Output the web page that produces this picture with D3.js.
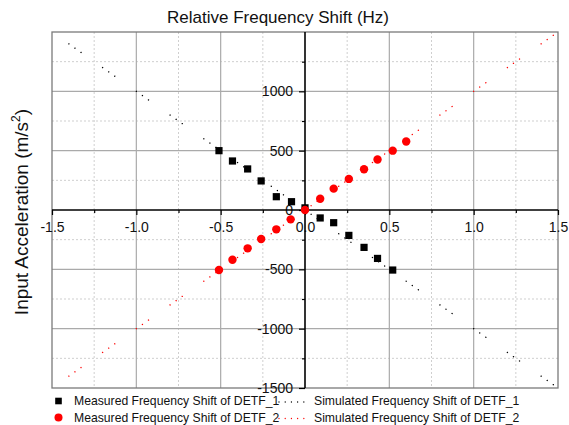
<!DOCTYPE html>
<html>
<head>
<meta charset="utf-8">
<script src="https://cdn.jsdelivr.net/npm/d3@7/dist/d3.min.js"></script>
<style>
  body { margin: 0; background: #fff; }
  svg { display: block; font-family: "Liberation Sans", Arial, sans-serif; }
</style>
</head>
<body>
<svg id="chart" width="569" height="425"></svg>
<script>
// ---- data ----
const measX1 = [-0.51, -0.43, -0.34, -0.26, -0.17, -0.08, 0.0, 0.09, 0.17, 0.26, 0.35, 0.43, 0.52];
const measY1 = [500, 413, 346, 245, 112, 70, 18, -67, -107, -214, -315, -408, -506];
const measX2 = [-0.51, -0.43, -0.34, -0.26, -0.17, -0.085, 0.0, 0.09, 0.17, 0.26, 0.35, 0.43, 0.52, 0.6];
const measY2 = [-506, -419, -323, -245, -163, -79, 0, 95, 180, 262, 343, 425, 500, 577];
const simX  = [-1.4, -1.2, -1.0, -0.8, -0.6, -0.4, -0.2, 0.0, 0.2, 0.4, 0.6, 0.8, 1.0, 1.2, 1.4, 1.5];
const simY1 = [1400, 1200, 1000, 800, 600, 400, 200, 0, -200, -400, -600, -800, -1000, -1200, -1400, -1500];
const simY2 = [-1400, -1200, -1000, -800, -600, -400, -200, 0, 200, 400, 600, 800, 1000, 1200, 1400, 1500];
const xMajor = [-1.5, -1.0, -0.5, 0.0, 0.5, 1.0, 1.5];
const xMinor = [-1.25, -0.75, -0.25, 0.25, 0.75, 1.25];
const yMajor = [-1500, -1000, -500, 0, 500, 1000];
const yMinor = [-1250, -750, -250, 250, 750, 1250];
const xGridMajor = [-1.0, -0.5, 0.5, 1.0];
const yGridMajor = [-1000, -500, 500, 1000];
const titleText = "Relative Frequency Shift (Hz)";
const legendLabels = ["Measured Frequency Shift of DETF_1", "Simulated Frequency Shift of DETF_1",
                      "Measured Frequency Shift of DETF_2", "Simulated Frequency Shift of DETF_2"];

// ---- layout ----
const svg = d3.select("#chart");
const L = 52, R = 558, T = 32, B = 388;
const x = d3.scaleLinear().domain([-1.5, 1.5]).range([L, R]);
const y = d3.scaleLinear().domain([-1500, 1500]).range([B, T]);
const red = "#ff0000";
const hy = f => (d => f(d).replace("\u2212", "-"));

// grid
const g = svg.append("g");
g.selectAll(".vmin").data(xMinor).join("line")
  .attr("x1", d => x(d)).attr("x2", d => x(d)).attr("y1", T).attr("y2", B)
  .attr("stroke", "#cfcfcf").attr("stroke-width", 1).attr("stroke-dasharray", "2,2");
g.selectAll(".hmin").data(yMinor).join("line")
  .attr("y1", d => y(d)).attr("y2", d => y(d)).attr("x1", L).attr("x2", R)
  .attr("stroke", "#cfcfcf").attr("stroke-width", 1).attr("stroke-dasharray", "2,2");
g.selectAll(".vmaj").data(xGridMajor).join("line")
  .attr("x1", d => x(d)).attr("x2", d => x(d)).attr("y1", T).attr("y2", B)
  .attr("stroke", "#aaaaaa").attr("stroke-width", 1.2);
g.selectAll(".hmaj").data(yGridMajor).join("line")
  .attr("y1", d => y(d)).attr("y2", d => y(d)).attr("x1", L).attr("x2", R)
  .attr("stroke", "#aaaaaa").attr("stroke-width", 1.2);

// frame
svg.append("rect").attr("x", L).attr("y", T).attr("width", R - L).attr("height", B - T)
  .attr("fill", "none").attr("stroke", "#7a7a7a").attr("stroke-width", 1.3);

// simulated dotted lines
function simLine(ys, color) {
  const pts = simX.map((d, i) => [x(d), y(ys[i])]);
  const seg = Math.hypot(pts[1][0] - pts[0][0], pts[1][1] - pts[0][1]);
  const d = seg * 0.18;
  svg.append("path")
    .attr("d", d3.line()(pts))
    .attr("fill", "none").attr("stroke", color).attr("stroke-width", 1.4)
    .attr("stroke-linecap", "round")
    .attr("stroke-dasharray", [0.01, d, 0.01, d, 0.01, seg - 2 * d - 0.03].join(","));
}
simLine(simY1, "#000");
simLine(simY2, red);

// axes
const xAxis = svg.append("g").attr("transform", `translate(0,${y(0)})`)
  .call(d3.axisBottom(x).tickValues(xMajor).tickSize(5).tickPadding(7).tickFormat(hy(d3.format(".1f"))));
xAxis.select(".domain").remove();
const xAxisMin = svg.append("g").attr("transform", `translate(0,${y(0)})`)
  .call(d3.axisBottom(x).tickValues(xMinor).tickSize(3).tickFormat(""));
xAxisMin.select(".domain").remove();
const yAxis = svg.append("g").attr("transform", `translate(${x(0)},0)`)
  .call(d3.axisLeft(y).tickValues(yMajor).tickSize(6).tickPadding(6).tickFormat(hy(d3.format("d"))));
yAxis.select(".domain").remove();
const yAxisMin = svg.append("g").attr("transform", `translate(${x(0)},0)`)
  .call(d3.axisLeft(y).tickValues(yMinor).tickSize(3).tickFormat(""));
yAxisMin.select(".domain").remove();
svg.selectAll(".tick text").attr("font-size", 14).attr("fill", "#111")
  .attr("font-family", "'Liberation Sans', Arial, sans-serif");
svg.selectAll(".tick line").attr("stroke", "#000").attr("stroke-width", 1.2);

svg.append("line").attr("x1", L).attr("x2", R).attr("y1", y(0)).attr("y2", y(0))
  .attr("stroke", "#000").attr("stroke-width", 1.6);
svg.append("line").attr("x1", x(0)).attr("x2", x(0)).attr("y1", T).attr("y2", B)
  .attr("stroke", "#000").attr("stroke-width", 1.6);

// measured markers
const sq = 7.2;
svg.append("g").selectAll("rect").data(measX1).join("rect")
  .attr("x", (d) => x(d) - sq / 2).attr("y", (d, i) => y(measY1[i]) - sq / 2)
  .attr("width", sq).attr("height", sq).attr("fill", "#000");
svg.append("g").selectAll("circle").data(measX2).join("circle")
  .attr("cx", d => x(d)).attr("cy", (d, i) => y(measY2[i])).attr("r", 4.2).attr("fill", red);

// title
svg.append("text").attr("x", 278).attr("y", 23).attr("text-anchor", "middle")
  .attr("font-size", 17).attr("fill", "#111").text(titleText);

// y title
const yt = svg.append("text").attr("transform", "translate(28,212) rotate(-90)")
  .attr("text-anchor", "middle").attr("font-size", 19).attr("fill", "#111");
yt.append("tspan").text("Input Acceleration (m/s");
yt.append("tspan").attr("font-size", 12).attr("dy", -8).text("2");
yt.append("tspan").attr("dy", 8).text(")");

// legend
const lg = svg.append("g").attr("font-size", 12.2).attr("fill", "#111");
const rows = [401, 417.5];
lg.append("rect").attr("x", 58.5 - 3.3).attr("y", rows[0] - 3.3).attr("width", 6.6).attr("height", 6.6).attr("fill", "#000");
lg.append("circle").attr("cx", 58.5).attr("cy", rows[1]).attr("r", 4).attr("fill", red);
[0, 1].forEach(r => {
  lg.append("text").attr("x", 74).attr("y", rows[r] + 4.3).text(legendLabels[r * 2]);
  lg.append("text").attr("x", 314).attr("y", rows[r] + 4.3).text(legendLabels[r * 2 + 1]);
  lg.append("line").attr("x1", 279).attr("x2", 310).attr("y1", rows[r] + 1).attr("y2", rows[r] + 1)
    .attr("stroke", r === 0 ? "#000" : red).attr("stroke-width", 1.3)
    .attr("stroke-linecap", "round").attr("stroke-dasharray", "0.01,6.2");
});
</script>
</body>
</html>
